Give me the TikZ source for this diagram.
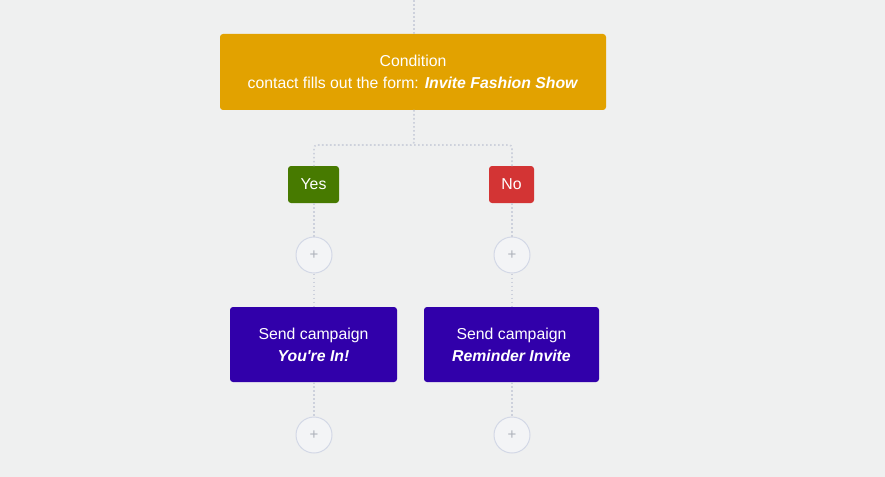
\documentclass[tikz,border=0pt]{standalone}
\usepackage{fontspec}
\setmainfont{Liberation Sans}
\begin{document}
\begin{tikzpicture}[x=1pt,y=-1pt,
  every node/.style={font=\fontsize{15.8}{22}\selectfont, text=white, align=center, inner sep=0pt},
  cond/.style={fill=condcol, rounded corners=3pt, minimum width=386pt, minimum height=76pt},
  camp/.style={fill=campcol, rounded corners=3pt, minimum height=75pt},
  tagyes/.style={fill=yescol, rounded corners=3pt, minimum width=51pt, minimum height=37pt},
  tagno/.style={fill=nocol, rounded corners=3pt, minimum width=45pt, minimum height=37pt},
  plus/.style={circle, draw=circcol, line width=1pt, fill=circfill, minimum size=36pt, text=pluscol, font=\fontsize{15}{15}\selectfont},
  link/.style={draw=linecol, line width=1.6pt, dash pattern=on 1.6pt off 2.4pt}
]
\definecolor{bg}{HTML}{EFF0F0}
\definecolor{condcol}{HTML}{E2A200}
\definecolor{campcol}{HTML}{3100AA}
\definecolor{yescol}{HTML}{477A00}
\definecolor{nocol}{HTML}{D33434}
\definecolor{circcol}{HTML}{D3D8E6}
\definecolor{circfill}{HTML}{F3F4F6}
\definecolor{pluscol}{HTML}{ADB1BA}
\definecolor{linecol}{HTML}{CDD1DC}
\useasboundingbox (0,0) rectangle (885,476);
\fill[bg] (-20,-20) rectangle (905,496);

\coordinate (top) at (414,0);
\node[cond] (c) at (413,72) {Condition\\contact fills out the form: \textbf{\textit{Invite Fashion Show}}};
\node[tagyes] (yes) at (313.5,184.5) {Yes};
\node[tagno] (no) at (511.5,184.5) {No};
\node[plus] (p1) at (314,255) {+};
\node[plus] (p2) at (512,255) {+};
\node[camp, minimum width=167pt] (s1) at (313.5,344.5) {Send campaign\\\textbf{\textit{You\textquotesingle re In!}}};
\node[camp, minimum width=175pt] (s2) at (511.5,344.5) {Send campaign\\\textbf{\textit{Reminder Invite}}};
\node[plus] (p3) at (314,435) {+};
\node[plus] (p4) at (512,435) {+};

\draw[link] (top) -- (414,34);
\draw[link, rounded corners=3pt] (414,110) -- (414,145) -- (314,145) -- (314,166);
\draw[link, rounded corners=3pt] (414,145) -- (512,145) -- (512,166);
\draw[link] (314,203) -- (p1);
\draw[link] (512,203) -- (p2);
\draw[link] (p1) -- (314,307);
\draw[link] (p2) -- (512,307);
\draw[link] (314,382) -- (p3);
\draw[link] (512,382) -- (p4);
\end{tikzpicture}
\end{document}
